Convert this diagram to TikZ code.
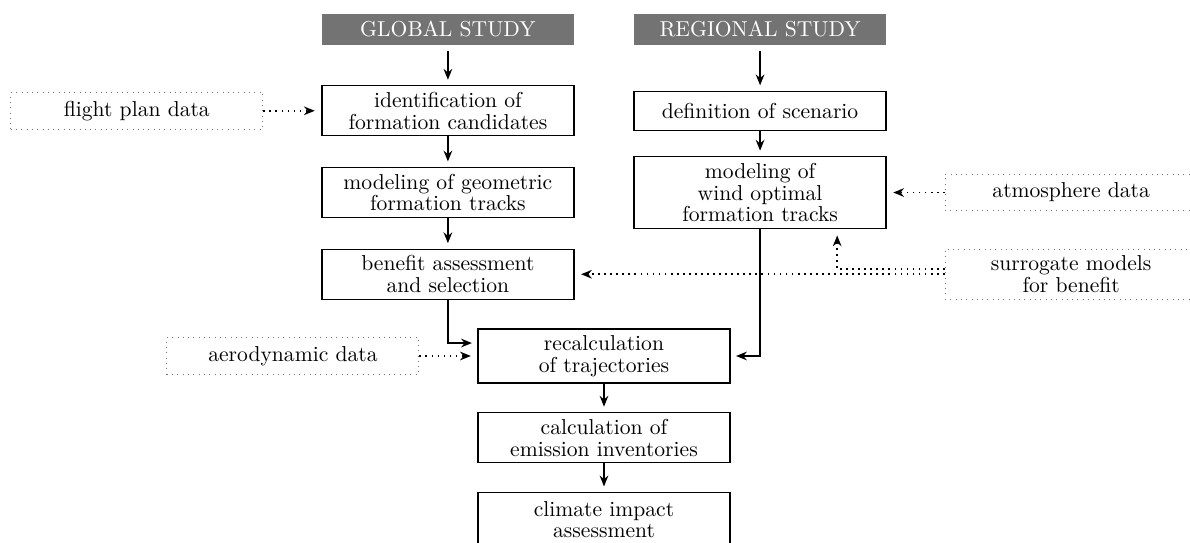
\documentclass[tikz,border=0pt]{standalone}
\usepackage{tikz}
\usetikzlibrary{positioning,arrows.meta}
\newcommand*\boxwidth{116.7pt}
\newcommand*\rowstep{1.33}
\newcommand*\colshift{2.54}
\definecolor{headgray}{gray}{0.45}
\tikzset{
    stepbox/.style  = {draw, line width=0.6pt,
                      minimum width=\boxwidth, minimum height=17pt,
                      inner sep=3pt, align=center,
                      font=\fontsize{10}{10}\selectfont},
    headbox/.style  = {stepbox, draw=none, fill=headgray, text=white,
                      minimum height=14.4pt},
    databox/.style  = {stepbox, draw=black!55, line width=0.45pt, dotted},
    flow/.style     = {-{Stealth[length=5pt,width=4pt]}, line width=0.8pt,
                      shorten >=2.5pt},
    dataflow/.style = {flow, dotted, shorten >=3pt},
  }

\begin{document}
\begin{tikzpicture}[node distance=26.8pt]
        \useasboundingbox (-9.829,-3.043) rectangle (9.536,5.793);

        % the two studies
        \node[headbox] (glob) at (-\colshift, 4*\rowstep) {GLOBAL STUDY};
        \node[headbox] (regi) at ( \colshift, 4*\rowstep) {REGIONAL STUDY};

        % global column
        \node[stepbox] (ident) at (-\colshift, 3*\rowstep) {identification of\\formation candidates};
        \node[stepbox] (geom)  at (-\colshift, 2*\rowstep) {modeling of geometric\\formation tracks};
        \node[stepbox] (bene)  at (-\colshift, 1*\rowstep) {benefit assessment\\and selection};

        % regional column
        \node[stepbox, minimum height=18pt] (scen) at (\colshift, 3*\rowstep) {definition of scenario};
        \node[stepbox] (wind) at (\colshift, 2*\rowstep) {modeling of\\wind optimal\\formation tracks};

        % common part
        \node[stepbox] (recalc)  at (0, 0)          {recalculation\\of trajectories};
        \node[stepbox] (emis)    at (0, -\rowstep)   {calculation of\\emission inventories};
        \node[stepbox, minimum height=25pt] (climate) at (0, -2*\rowstep) {climate impact\\assessment};

        % input data
        \node[databox, left=of ident]  (fplan) {flight plan data};
        \node[databox, left=of recalc] (aero)  {aerodynamic data};
        \node[databox, right=of wind]  (atmo)  {atmosphere data};
        \node[databox, anchor=west] (surr) at (atmo.west |- bene) {surrogate models\\for benefit};
        \coordinate (tap) at ([xshift=35.7pt]wind.south);

        % main flow
        \draw[flow, shorten <=2.5pt] (glob) -- (ident);
        \draw[flow, shorten <=2.5pt] (regi) -- (scen);
        \draw[flow] (ident) -- (geom);
        \draw[flow] (geom) -- (bene);
        \draw[flow] (scen) -- (wind);
        \draw[flow] (bene) |- ([yshift=6pt]recalc.west);
        \draw[flow] (wind) |- (recalc);
        \draw[flow] (recalc) -- (emis);
        \draw[flow] (emis) -- (climate);

        % data inputs
        \draw[dataflow] (fplan) -- (ident);
        \draw[dataflow] (aero) -- (recalc);
        \draw[dataflow] (atmo) -- (wind);
        \draw[dataflow] (surr) -- (bene);
        \draw[dataflow] ([yshift=2.3pt]surr.west) -| (tap);
    \end{tikzpicture}
\end{document}
